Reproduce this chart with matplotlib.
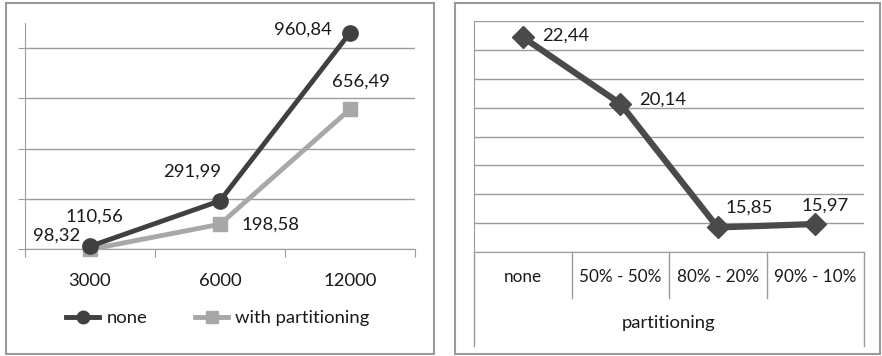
import matplotlib.pyplot as plt
from matplotlib.patches import Rectangle
from matplotlib.lines import Line2D
import matplotlib.transforms as mtransforms

plt.rcParams['font.family'] = ['Lato', 'DejaVu Sans']

# left chart data
sizes = ['3000', '6000', '12000']
none_vals = [110.56, 291.99, 960.84]
part_vals = [98.32, 198.58, 656.49]
none_lbls = ['110,56', '291,99', '960,84']
part_lbls = ['98,32', '198,58', '656,49']

# right chart data
splits = ['none', '50% - 50%', '80% - 20%', '90% - 10%']
split_vals = [22.44, 20.14, 15.85, 15.97]
split_lbls = ['22,44', '20,14', '15,85', '15,97']

W, H = 882, 356
fig = plt.figure(figsize=(W / 100, H / 100), dpi=100)

def box(x0, y0, x1, y1):
    return [x0 / W, 1 - y1 / H, (x1 - x0) / W, (y1 - y0) / H]

def px(dx, dy):
    # pixel offset (y down) -> points
    return (dx * 0.72, -dy * 0.72)

# panel frames
for x0, x1 in [(6, 434), (455, 880)]:
    fig.patches.append(Rectangle((x0 / W, 1 - 354 / H), (x1 - x0) / W, 351 / H,
                                 transform=fig.transFigure, fill=False,
                                 edgecolor='#9a9a9a', linewidth=1.5))

dark = '#404040'
light = '#a8a8a8'
grid = '#9c9c9c'
txt = '#1a1a1a'
fs = 13.3

# ---------- left chart ----------
ax = fig.add_axes(box(25, 23, 415, 249))
x = list(range(len(sizes)))
ax.plot(x, part_vals, color=light, lw=3.5, marker='s', ms=10, clip_on=False, zorder=3)
ax.plot(x, none_vals, color=dark, lw=3.5, marker='o', ms=11, clip_on=False, zorder=4)
ax.set_xlim(-0.5, 2.5)
ax.set_ylim(100, 1000)
ax.set_yticks([100, 300, 500, 700, 900])
ax.yaxis.grid(True, color=grid, lw=1)
ax.set_axisbelow(True)
for s in ['top', 'right']:
    ax.spines[s].set_visible(False)
for s in ['left', 'bottom']:
    ax.spines[s].set_color(grid)
ax.tick_params(axis='y', direction='out', length=5, color=grid, labelleft=False)
ax.set_xticks([-0.5, 0.5, 1.5, 2.5], minor=False)
ax.tick_params(axis='x', direction='out', length=6, color=grid, labelbottom=False)
ax.set_xticks(x, minor=True)
ax.set_xticklabels(sizes, minor=True)
ax.tick_params(axis='x', which='minor', length=0, pad=17, labelsize=fs, labelcolor=txt)

ax.annotate(none_lbls[0], (0, none_vals[0]), xytext=px(4, -30), textcoords='offset points',
            ha='center', va='center', fontsize=fs, color=txt)
ax.annotate(part_lbls[0], (0, part_vals[0]), xytext=px(-10, -14), textcoords='offset points',
            ha='right', va='center', fontsize=fs, color=txt)
ax.annotate(none_lbls[1], (1, none_vals[1]), xytext=px(-28, -29), textcoords='offset points',
            ha='center', va='center', fontsize=fs, color=txt)
ax.annotate(part_lbls[1], (1, part_vals[1]), xytext=px(22, 0), textcoords='offset points',
            ha='left', va='center', fontsize=fs, color=txt)
ax.annotate(none_lbls[2], (2, none_vals[2]), xytext=px(-18, -3), textcoords='offset points',
            ha='right', va='center', fontsize=fs, color=txt)
ax.annotate(part_lbls[2], (2, part_vals[2]), xytext=px(11, -28), textcoords='offset points',
            ha='center', va='center', fontsize=fs, color=txt)

handles = [Line2D([], [], color=dark, lw=3.5, marker='o', ms=9),
           Line2D([], [], color=light, lw=3.5, marker='s', ms=8)]
fig.legend(handles, ['none', 'with partitioning'], loc='center',
           bbox_to_anchor=(218 / W, 1 - 318 / H), ncol=2, frameon=False,
           fontsize=fs, handlelength=1.8, handletextpad=0.38, columnspacing=2.6,
           borderaxespad=0, borderpad=0, labelcolor=txt)

# ---------- right chart ----------
ax2 = fig.add_axes(box(474, 21, 864, 252))
x2 = list(range(len(splits)))
ax2.plot(x2, split_vals, color='#4a4a4a', lw=4.5, marker='D', ms=11, clip_on=False, zorder=3)
ax2.set_xlim(-0.5, 3.5)
ax2.set_ylim(15, 23)
ax2.set_yticks(range(15, 24))
ax2.yaxis.grid(True, color=grid, lw=1)
ax2.set_axisbelow(True)
for s in ['top', 'right']:
    ax2.spines[s].set_visible(False)
for s in ['left', 'bottom']:
    ax2.spines[s].set_color(grid)
ax2.tick_params(axis='y', length=0, labelleft=False)
ax2.set_xticks(x2)
ax2.set_xticklabels(splits)
ax2.tick_params(axis='x', length=0, pad=12.5, labelsize=12.3, labelcolor=txt)
ax2.text(0.5, -0.307, 'partitioning', transform=ax2.transAxes, ha='center', va='center',
         fontsize=fs, color=txt)

trans = mtransforms.blended_transform_factory(ax2.transData, ax2.transAxes)
for xb in [0.5, 1.5, 2.5]:
    ax2.plot([xb, xb], [0, -0.2], transform=trans, color=grid, lw=1, clip_on=False)
for xb in [-0.5, 3.5]:
    ax2.plot([xb, xb], [0, -0.405], transform=trans, color=grid, lw=1, clip_on=False)

offs = [(19, -2, 'left'), (19, -4, 'left'), (31, -20, 'center'), (10, -18, 'center')]
for i, (v, lb) in enumerate(zip(split_vals, split_lbls)):
    dx, dy, ha = offs[i]
    ax2.annotate(lb, (i, v), xytext=px(dx, dy), textcoords='offset points',
                 ha=ha, va='center', fontsize=fs, color=txt)

fig.savefig('out.png', dpi=100)
